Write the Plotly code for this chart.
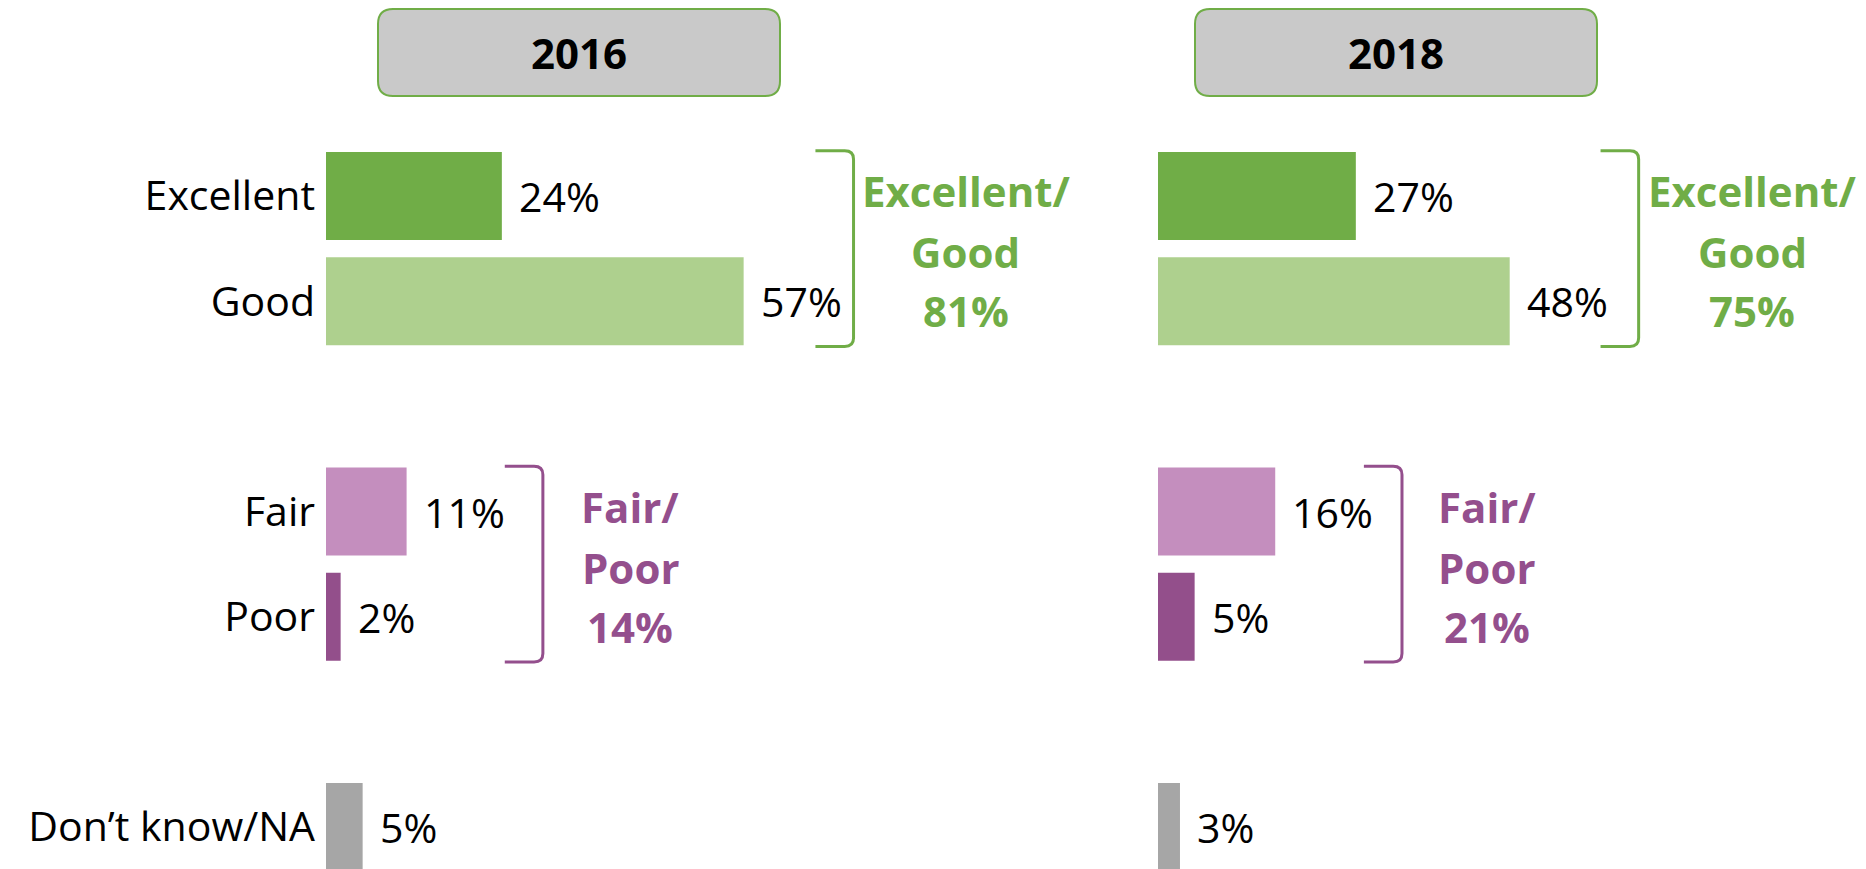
import plotly.graph_objects as go

# ---------------- data ----------------
years = ["2016", "2018"]
categories = ["Excellent", "Good", "Fair", "Poor", "Don’t know/NA"]
values_2016 = [24, 57, 11, 2, 5]
values_2018 = [27, 48, 16, 5, 3]
group_members = [["Excellent", "Good"], ["Fair", "Poor"], ["Don’t know/NA"]]
net_titles = [["Excellent/", "Good"], ["Fair/", "Poor"]]
net_2016 = [81, 14]
net_2018 = [75, 21]

# ---------------- style ----------------
W, H = 1866, 869
OFF = 8  # page body margin of the browser
FONT = "Open Sans, Liberation Sans, Arial, sans-serif"
colors = {"Excellent": "#70AD47", "Good": "#AED08E", "Fair": "#C48EBE",
          "Poor": "#934F8B", "Don’t know/NA": "#A6A6A6"}
net_colors = ["#70AD47", "#944F8D"]

PX_PER_PCT = 7.327
X_RANGE = [0, 90]
panel_x0_px = {"2016": 326 - OFF, "2018": 1158 - OFF}
SLOT_PX = 105.17
FIRST_SLOT_PX = 196 - OFF
BAR_WIDTH = 0.837

bracket_x = {"2016": [72.0, 29.6], "2018": [65.6, 33.3]}
net_label_x = {"2016": [87.3, 41.5], "2018": [81.1, 44.9]}
year_box_px = {"2016": (378 - OFF, 780 - OFF), "2018": (1195 - OFF, 1597 - OFF)}
YEAR_BOX_Y_PX = (9 - OFF, 96 - OFF)

# slots: one empty slot between groups
slot = {}
s = 0
for g in group_members:
    for c in g:
        slot[c] = s
        s += 1
    s += 1

y_top = -FIRST_SLOT_PX / SLOT_PX
y_bottom = y_top + H / SLOT_PX

values = {"2016": values_2016, "2018": values_2018}
nets = {"2016": net_2016, "2018": net_2018}
axis_of = {"2016": "x", "2018": "x2"}

fig = go.Figure()
annotations = []
shapes = []

for yr in years:
    ax = axis_of[yr]
    fig.add_trace(go.Bar(
        orientation="h",
        x=values[yr],
        y=[slot[c] for c in categories],
        marker=dict(color=[colors[c] for c in categories], line=dict(width=0)),
        width=BAR_WIDTH,
        xaxis=ax, yaxis="y",
        hoverinfo="skip",
    ))
    # value labels
    for c, v in zip(categories, values[yr]):
        annotations.append(dict(
            x=v, y=slot[c], xref=ax, yref="y", text=f"{v}%",
            xanchor="left", yanchor="middle", xshift=15, showarrow=False,
            font=dict(family=FONT, size=41, color="#000000"),
        ))
    # brackets and net labels
    for gi, members in enumerate(group_members[:2]):
        y0 = min(slot[m] for m in members) - 0.43
        y1 = max(slot[m] for m in members) + 0.43
        bx = bracket_x[yr][gi]
        arm, rx, ry = 5.2, 1.2, 0.08
        path = (f"M {bx-arm},{y0} L {bx-rx},{y0} Q {bx},{y0} {bx},{y0+ry} "
                f"L {bx},{y1-ry} Q {bx},{y1} {bx-rx},{y1} L {bx-arm},{y1}")
        shapes.append(dict(type="path", path=path, xref=ax, yref="y",
                           line=dict(color=net_colors[gi], width=3)))
        yc = sum(slot[m] for m in members) / len(members)
        lines = net_titles[gi] + [f"{nets[yr][gi]}%"]
        for line, shift in zip(lines, [58, -3, -62]):
            annotations.append(dict(
                x=net_label_x[yr][gi], y=yc, xref=ax, yref="y", text=f"<b>{line}</b>",
                xanchor="center", yanchor="middle", yshift=shift, showarrow=False,
                font=dict(family=FONT, size=42, color=net_colors[gi]),
            ))
    # year header box
    bx0, bx1 = year_box_px[yr]
    by0, by1 = YEAR_BOX_Y_PX
    px0, px1 = bx0 / W, bx1 / W
    py0, py1 = 1 - by1 / H, 1 - by0 / H
    rx, ry = 15 / W, 15 / H
    path = (f"M {px0+rx},{py1} L {px1-rx},{py1} Q {px1},{py1} {px1},{py1-ry} "
            f"L {px1},{py0+ry} Q {px1},{py0} {px1-rx},{py0} L {px0+rx},{py0} "
            f"Q {px0},{py0} {px0},{py0+ry} L {px0},{py1-ry} Q {px0},{py1} {px0+rx},{py1} Z")
    shapes.append(dict(type="path", path=path, xref="paper", yref="paper",
                       fillcolor="#C9C9C9", line=dict(color="#70AD47", width=2),
                       layer="below"))
    annotations.append(dict(
        x=(px0 + px1) / 2, y=(py0 + py1) / 2, xref="paper", yref="paper",
        text=f"<b>{yr}</b>", xanchor="center", yanchor="middle", showarrow=False,
        font=dict(family=FONT, size=42, color="#000000"),
    ))

span = (X_RANGE[1] - X_RANGE[0]) * PX_PER_PCT
dom = {yr: [panel_x0_px[yr] / W, (panel_x0_px[yr] + span) / W] for yr in years}

hidden_x = dict(range=X_RANGE, showgrid=False, zeroline=False, showline=False,
                showticklabels=False, ticks="", fixedrange=True)

fig.update_layout(
    width=W, height=H,
    margin=dict(l=0, r=0, t=0, b=0),
    paper_bgcolor="white", plot_bgcolor="white",
    showlegend=False,
    barmode="overlay",
    xaxis=dict(domain=dom["2016"], anchor="y", **hidden_x),
    xaxis2=dict(domain=dom["2018"], anchor="y", **hidden_x),
    yaxis=dict(
        domain=[0, 1], anchor="x", range=[y_bottom, y_top],
        tickvals=[slot[c] for c in categories], ticktext=categories,
        showgrid=False, zeroline=False, showline=False, ticks="",
        ticklabelstandoff=10,
        tickfont=dict(family=FONT, size=41, color="#000000"),
    ),
    annotations=annotations,
    shapes=shapes,
)

fig.write_html("out.html")
